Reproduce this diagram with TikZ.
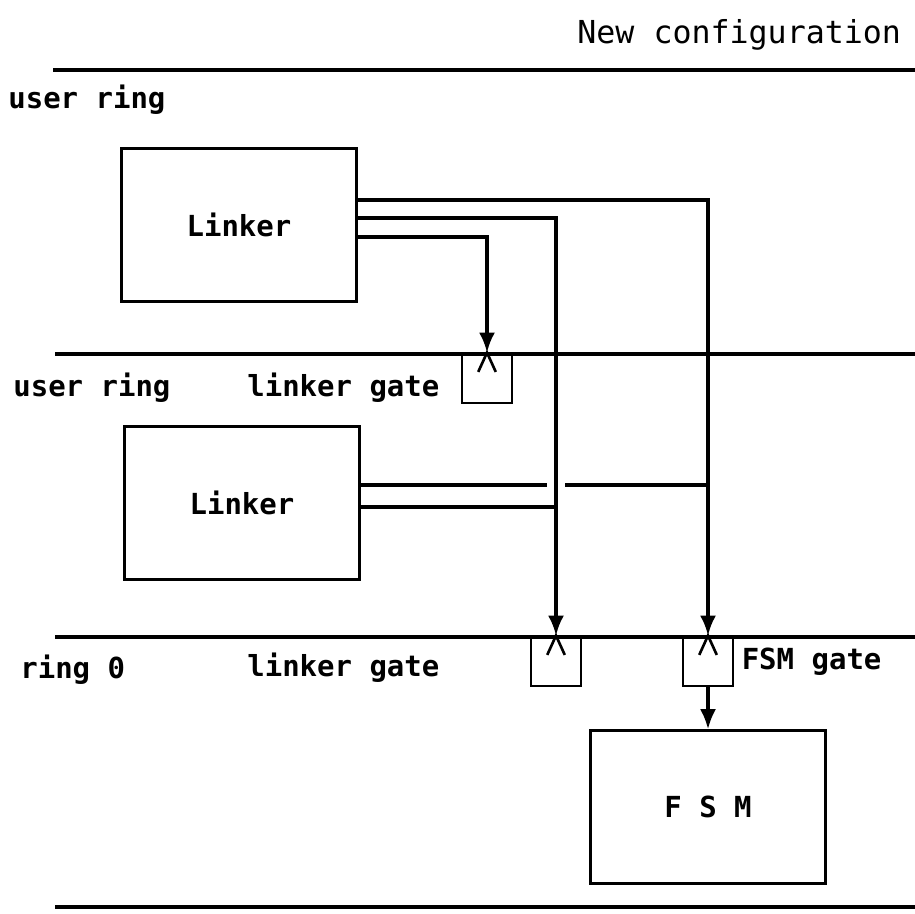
\documentclass[tikz,border=0pt]{standalone}
\usepackage{fontspec}
\setmonofont{DejaVu Sans Mono}
\usetikzlibrary{arrows.meta,positioning,calc}
\tikzset{box/.style={rectangle, draw=black, line width=1.8pt, minimum width=4.7cm, minimum height=3.05cm, font=\ttfamily\bfseries\fontsize{16.5}{18}\selectfont}, gatebox/.style={rectangle, draw=black, line width=1.6pt, minimum width=1cm, minimum height=0.98cm, inner sep=0pt}, ring/.style={line width=2.5pt}, wire/.style={line width=1.8pt}, arrow/.style={wire, -{Latex[length=4mm, width=3.2mm]}}, lbl/.style={anchor=west, inner sep=0pt, font=\ttfamily\bfseries\fontsize{16.5}{18}\selectfont}, gatemark/.pic={\draw[line width=1.5pt] (-5pt,-11pt) -- (0,0) -- (5pt,-11pt);}}

\begin{document}
\begin{tikzpicture}[x=0.02cm, y=-0.02cm]
\useasboundingbox (0,0) rectangle (915,913);
% ring boundaries
\draw[ring] (53,70) -- (915,70);
\draw[ring] (55,354) -- (915,354);
\draw[ring] (55,637) -- (915,637);
\draw[ring] (55,907) -- (915,907);
\node[lbl, font=\ttfamily\fontsize{18}{20}\selectfont] (title) at (577,35) {New configuration};
\node[lbl] (userA) at (8,100) {user ring};
\node[lbl] (userB) at (13,388) {user ring};
\node[lbl] (ringz) at (20,670) {ring 0};
% procedures
\node[box] (linkA) at (239,225) {Linker};
\node[box] (linkB) at (242,503) {Linker};
\node[box] (fsm) at (708,807) {F S M};
% gates
\node[gatebox] (gateA) at (487,378.5) {};
\node[gatebox] (gateB) at (556,661.5) {};
\node[gatebox] (gateC) at (708,661.5) {};
\node[lbl] (gateAlbl) at (247,388) {linker gate};
\node[lbl] (gateBlbl) at (247,668) {linker gate};
\node[lbl, right=4pt of gateC] (gateClbl) {FSM gate};
% calls
\draw[arrow] (linkA.east |- 0,200) -| (gateC.north);
\draw[arrow] (linkA.east |- 0,218) -| (gateB.north);
\draw[arrow] (linkA.east |- 0,237) -| (gateA.north);
\draw[wire] (linkB.east |- 0,485) -- ($(gateB.north |- 0,485)+(-9,0)$);
\draw[wire] ($(gateB.north |- 0,485)+(9,0)$) -- (gateC.north |- 0,485);
\draw[wire] (linkB.east |- 0,507) -- (gateB.north |- 0,507);
\draw[arrow] (gateC.south) -- (fsm.north);
\foreach \g in {gateA,gateB,gateC} \pic at (\g.north) {gatemark};
\end{tikzpicture}
\end{document}
